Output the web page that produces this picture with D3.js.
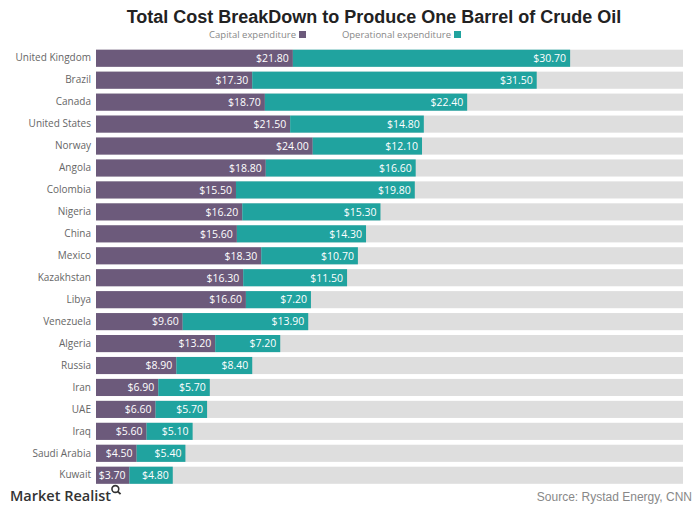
<!DOCTYPE html>
<html>
<head>
<meta charset="utf-8">
<script src="https://cdn.jsdelivr.net/npm/d3@7"></script>
<style>
  html, body { margin: 0; padding: 0; background: #fff; }
  svg { display: block; }
</style>
</head>
<body>
<svg id="chart" width="698" height="509"></svg>
<script>
const countries = ["United Kingdom", "Brazil", "Canada", "United States", "Norway", "Angola",
  "Colombia", "Nigeria", "China", "Mexico", "Kazakhstan", "Libya", "Venezuela", "Algeria",
  "Russia", "Iran", "UAE", "Iraq", "Saudi Arabia", "Kuwait"];
const capex = [21.8, 17.3, 18.7, 21.5, 24.0, 18.8, 15.5, 16.2, 15.6, 18.3, 16.3, 16.6, 9.6, 13.2,
  8.9, 6.9, 6.6, 5.6, 4.5, 3.7];
const opex = [30.7, 31.5, 22.4, 14.8, 12.1, 16.6, 19.8, 15.3, 14.3, 10.7, 11.5, 7.2, 13.9, 7.2,
  8.4, 5.7, 5.7, 5.1, 5.4, 4.8];
const seriesNames = ["Capital expenditure", "Operational expenditure"];
const axisMax = 65;

const colors = { capex: "#6c5a7b", opex: "#20a39f", track: "#dedede" };
const svg = d3.select("#chart");
const margin = { left: 96, right: 15 };
const width = 698;

const x = d3.scaleLinear().domain([0, axisMax]).range([margin.left, width - margin.right]);
const y = d3.scaleBand().domain(countries).range([47.5, 486]).paddingInner(0.22).paddingOuter(0.1);

// title
svg.append("text")
  .attr("x", 374).attr("y", 23)
  .attr("text-anchor", "middle")
  .attr("font-family", "Liberation Sans, Arial, sans-serif")
  .attr("font-weight", "bold")
  .attr("font-size", 18)
  .attr("fill", "#222")
  .text("Total Cost BreakDown to Produce One Barrel of Crude Oil");

// legend
const legend = [
  { name: seriesNames[0], color: colors.capex, x: 296 },
  { name: seriesNames[1], color: colors.opex, x: 451 }
];
legend.forEach(l => {
  svg.append("text")
    .attr("x", l.x).attr("y", 38)
    .attr("text-anchor", "end")
    .attr("font-family", "Open Sans, sans-serif")
    .attr("font-size", 9.5)
    .attr("fill", "#888")
    .text(l.name);
  svg.append("rect")
    .attr("x", l.x + 3).attr("y", 31)
    .attr("width", 7).attr("height", 7)
    .attr("fill", l.color);
});

const rows = countries.map((c, i) => ({ country: c, capex: capex[i], opex: opex[i] }));

// track behind each bar
svg.append("g").selectAll("rect").data(rows).join("rect")
  .attr("x", x(0)).attr("y", d => y(d.country))
  .attr("width", x(axisMax) - x(0)).attr("height", y.bandwidth())
  .attr("fill", colors.track);

// capital expenditure segment
svg.append("g").selectAll("rect").data(rows).join("rect")
  .attr("x", x(0)).attr("y", d => y(d.country))
  .attr("width", d => x(d.capex) - x(0)).attr("height", y.bandwidth())
  .attr("fill", colors.capex);

// operational expenditure segment
svg.append("g").selectAll("rect").data(rows).join("rect")
  .attr("x", d => x(d.capex)).attr("y", d => y(d.country))
  .attr("width", d => x(d.capex + d.opex) - x(d.capex)).attr("height", y.bandwidth())
  .attr("fill", colors.opex);

const fmt = v => "$" + v.toFixed(2);
const labelFont = "Open Sans, sans-serif";

// value labels inside segments
svg.append("g").selectAll("text").data(rows).join("text")
  .attr("x", d => x(d.capex) - 4)
  .attr("y", d => y(d.country) + y.bandwidth() / 2)
  .attr("dy", "0.36em")
  .attr("text-anchor", "end")
  .attr("font-family", labelFont).attr("font-size", 10.5)
  .attr("fill", "#fff")
  .text(d => fmt(d.capex));

svg.append("g").selectAll("text").data(rows).join("text")
  .attr("x", d => x(d.capex + d.opex) - 4)
  .attr("y", d => y(d.country) + y.bandwidth() / 2)
  .attr("dy", "0.36em")
  .attr("text-anchor", "end")
  .attr("font-family", labelFont).attr("font-size", 10.5)
  .attr("fill", "#fff")
  .text(d => fmt(d.opex));

// category axis
const yAxis = svg.append("g")
  .attr("transform", `translate(${margin.left - 5},0)`)
  .call(d3.axisLeft(y).tickSize(0).tickPadding(0));
yAxis.select(".domain").remove();
yAxis.selectAll("text")
  .attr("font-family", labelFont).attr("font-size", 10)
  .attr("fill", "#666");

// footer
const brand = svg.append("text")
  .attr("x", 10).attr("y", 501)
  .attr("font-family", "Open Sans, sans-serif")
  .attr("font-size", 14.5).attr("font-weight", 600)
  .attr("fill", "#333")
  .text("Market Realist");
const bb = brand.node().getBBox();
const mg = svg.append("g").attr("transform", `translate(${bb.x + bb.width + 4},${489})`);
mg.append("circle").attr("r", 3.4).attr("fill", "none").attr("stroke", "#333").attr("stroke-width", 1.6);
mg.append("line").attr("x1", 2.3).attr("y1", 2.3).attr("x2", 5.2).attr("y2", 5.2)
  .attr("stroke", "#333").attr("stroke-width", 1.8);

svg.append("text")
  .attr("x", 692).attr("y", 501)
  .attr("text-anchor", "end")
  .attr("font-family", "Liberation Sans, Arial, sans-serif")
  .attr("font-size", 12)
  .attr("fill", "#888")
  .text("Source: Rystad Energy, CNN");
</script>
</body>
</html>
